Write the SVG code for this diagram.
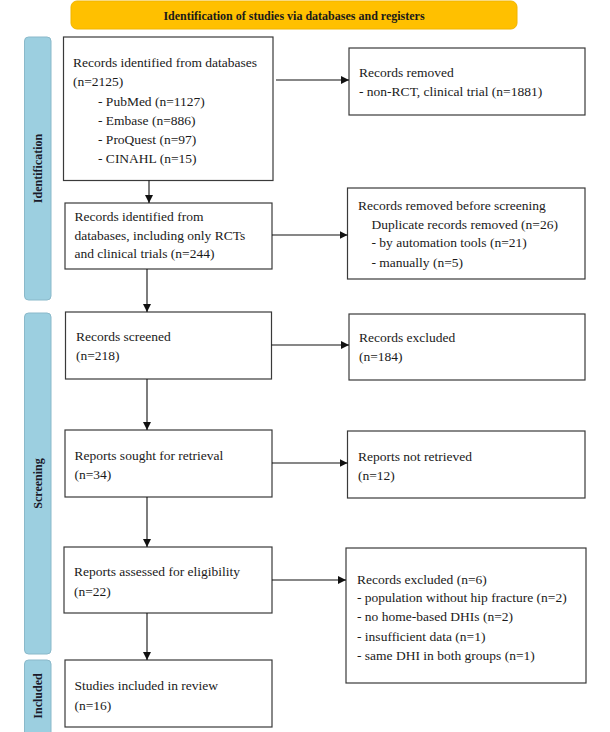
<svg xmlns="http://www.w3.org/2000/svg" width="610" height="732" viewBox="0 0 610 732">
<style>
.bx{fill:#fff;stroke:#3a3a3a;stroke-width:1.2}
.band{fill:#9CCFE0;stroke:#8AB9CA;stroke-width:1}
.t{font-family:"Liberation Serif","Times New Roman",serif;font-size:13.5px;fill:#1a1a1a}
.bl{font-family:"Liberation Serif","Times New Roman",serif;font-size:12px;font-weight:bold;fill:#1a1a2a;text-anchor:middle}
.hd{font-family:"Liberation Serif","Times New Roman",serif;font-size:12px;font-weight:bold;fill:#1a1a1a;text-anchor:middle}
.c{stroke:#111;stroke-width:1.1;fill:none;marker-end:url(#ah)}
</style>
<defs>
<marker id="ah" markerUnits="userSpaceOnUse" markerWidth="10" markerHeight="10" refX="8" refY="4" orient="auto">
<path d="M0,0 L8,4 L0,8 Z" fill="#111"/>
</marker>
</defs>
<rect width="610" height="732" fill="#fff"/>
<g id="header">
<rect x="71" y="1" width="446" height="28" rx="6" fill="#FFC000" stroke="#F0B400" stroke-width="1"/>
<text class="hd" x="294" y="19.5">Identification of studies via databases and registers</text>
</g>
<g id="band-identification">
<rect class="band" x="24.5" y="37" width="26.5" height="263" rx="4"/>
<text class="bl" transform="translate(42,168.5) rotate(-90)">Identification</text>
</g>
<g id="band-screening">
<rect class="band" x="24.5" y="313" width="26.5" height="341" rx="4"/>
<text class="bl" transform="translate(42,483.5) rotate(-90)">Screening</text>
</g>
<g id="band-included">
<rect class="band" x="24.5" y="660" width="26.5" height="80" rx="4"/>
<text class="bl" transform="translate(42,696) rotate(-90)">Included</text>
</g>
<g id="n-databases">
<rect class="bx" x="63.5" y="37" width="209.5" height="143.5"/>
<text class="t" x="73" y="66.5">Records identified from databases</text>
<text class="t" x="73" y="86">(n=2125)</text>
<text class="t" x="98" y="105.5">- PubMed (n=1127)</text>
<text class="t" x="98" y="124.5">- Embase (n=886)</text>
<text class="t" x="98" y="143.5">- ProQuest (n=97)</text>
<text class="t" x="98" y="162.5">- CINAHL (n=15)</text>
</g>
<g id="n-removed">
<rect class="bx" x="349" y="48" width="236" height="67"/>
<text class="t" x="359" y="77">Records removed</text>
<text class="t" x="359" y="96">- non-RCT, clinical trial (n=1881)</text>
</g>
<g id="n-rcts">
<rect class="bx" x="65" y="203" width="207" height="66"/>
<text class="t" x="74.5" y="221">Records identified from</text>
<text class="t" x="74.5" y="239.5">databases, including only RCTs</text>
<text class="t" x="74.5" y="258">and clinical trials (n=244)</text>
</g>
<g id="n-removed-before">
<rect class="bx" x="347.5" y="188" width="237.5" height="91"/>
<text class="t" x="358" y="210">Records removed before screening</text>
<text class="t" x="371.5" y="228.5">Duplicate records removed (n=26)</text>
<text class="t" x="371.5" y="247">- by automation tools (n=21)</text>
<text class="t" x="371.5" y="267">- manually (n=5)</text>
</g>
<g id="n-screened">
<rect class="bx" x="65.5" y="312" width="206" height="67"/>
<text class="t" x="76" y="341">Records screened</text>
<text class="t" x="76" y="360">(n=218)</text>
</g>
<g id="n-excluded">
<rect class="bx" x="349" y="314" width="236" height="66"/>
<text class="t" x="359" y="341.5">Records excluded</text>
<text class="t" x="359" y="361">(n=184)</text>
</g>
<g id="n-sought">
<rect class="bx" x="65" y="430" width="207" height="67"/>
<text class="t" x="74.5" y="459.5">Reports sought for retrieval</text>
<text class="t" x="74.5" y="478.5">(n=34)</text>
</g>
<g id="n-notretrieved">
<rect class="bx" x="347.5" y="431" width="237.5" height="67"/>
<text class="t" x="358" y="460.5">Reports not retrieved</text>
<text class="t" x="358" y="479.5">(n=12)</text>
</g>
<g id="n-assessed">
<rect class="bx" x="64" y="547" width="208" height="66"/>
<text class="t" x="74" y="576">Reports assessed for eligibility</text>
<text class="t" x="74" y="596">(n=22)</text>
</g>
<g id="n-excluded6">
<rect class="bx" x="346" y="548" width="240" height="135"/>
<text class="t" x="357" y="583.5">Records excluded (n=6)</text>
<text class="t" x="357" y="602">- population without hip fracture (n=2)</text>
<text class="t" x="357" y="621">- no home-based DHIs (n=2)</text>
<text class="t" x="357" y="640.5">- insufficient data (n=1)</text>
<text class="t" x="357" y="659.5">- same DHI in both groups (n=1)</text>
</g>
<g id="n-included">
<rect class="bx" x="65" y="660" width="207" height="67"/>
<text class="t" x="74.5" y="689.5">Studies included in review</text>
<text class="t" x="74.5" y="709.5">(n=16)</text>
</g>
<g id="connectors">
<line class="c" x1="276" y1="80" x2="349" y2="80"/>
<line class="c" x1="149" y1="180.5" x2="149" y2="203"/>
<line class="c" x1="272" y1="235" x2="347.5" y2="235"/>
<line class="c" x1="147" y1="269" x2="147" y2="312"/>
<line class="c" x1="271.5" y1="345" x2="349" y2="345"/>
<line class="c" x1="147" y1="379" x2="147" y2="430"/>
<line class="c" x1="272" y1="463" x2="347.5" y2="463"/>
<line class="c" x1="147" y1="497" x2="147" y2="547"/>
<line class="c" x1="272" y1="580" x2="346" y2="580"/>
<line class="c" x1="147" y1="613" x2="147" y2="660"/>
</g>
</svg>
